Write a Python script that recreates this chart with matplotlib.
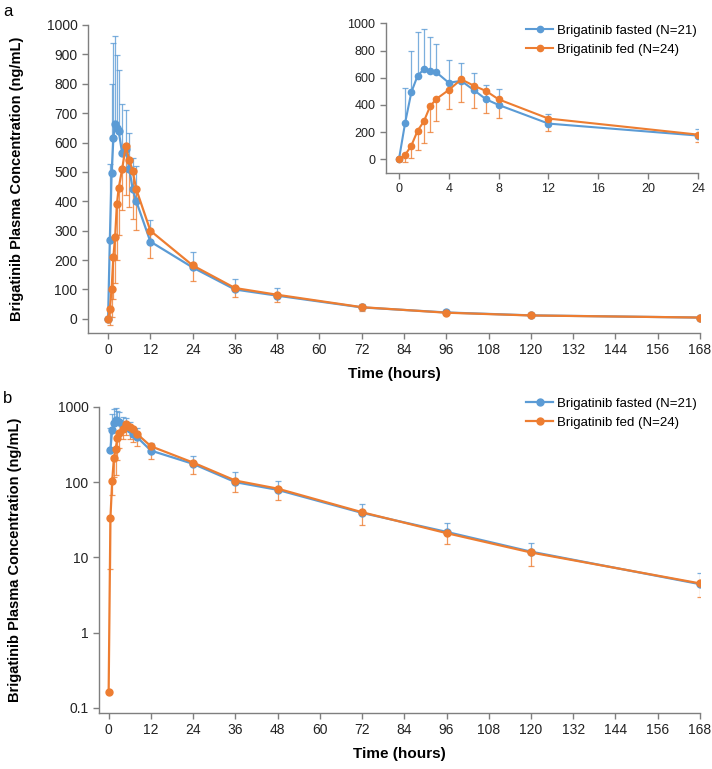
import matplotlib
matplotlib.use("Agg")
import matplotlib.pyplot as plt
import numpy as np
from matplotlib.ticker import FixedLocator, FixedFormatter

plt.rcParams['font.family'] = ['Liberation Sans Narrow', 'Liberation Sans', 'DejaVu Sans']

# sampling times (h)
time = [0, 0.5, 1, 1.5, 2, 2.5, 3, 4, 5, 6, 7, 8, 12, 24, 36, 48, 72, 96, 120, 168]

# mean concentrations (ng/mL)
fasted = [0, 270, 495, 615, 662, 648, 640, 563, 577, 510, 441, 400, 263, 175, 100, 79, 39, 21.8, 11.9, 4.4]
fed = [0.16, 33, 102, 211, 279, 390, 444, 510, 588, 542, 502, 441, 300, 182, 105, 82, 39.8, 21.0, 11.6, 4.5]

# error bar ends (fasted: upper only, fed: lower only)
fasted_hi = [0, 527, 799, 939, 961, 897, 848, 730, 711, 632, 549, 520, 336, 226, 136, 105, 51, 29, 15.7, 6.2]
fed_lo = [0.16, -22, 7, 66, 123, 199, 284, 370, 422, 380, 341, 301, 206, 128, 73, 58, 26.6, 14.9, 7.6, 3.0]
# lower ends as drawn on the log panel
fed_lo_log = [0.16, 6.9, 67, 118, 123, 199, 284, 370, 422, 380, 341, 301, 206, 128, 73, 58, 26.6, 14.9, 7.6, 3.0]

xticks_main = list(range(0, 169, 12))
xticks_inset = [0, 4, 8, 12, 16, 20, 24]

blue = '#5B9BD5'
orange = '#ED7D31'
axcol = '#7f7f7f'

t = np.array(time)
fe = np.array(fed)


def draw(ax, lo, log=False, ms=5, lw=1.6, cap=2.5):
    fa = np.array(fasted, dtype=float)
    if log:
        fa[fa <= 0] = np.nan
    up_err = [np.zeros_like(fa), np.array(fasted_hi) - np.nan_to_num(fa)]
    lo_err = [fe - np.array(lo), np.zeros_like(fe)]
    ax.errorbar(t, fa, yerr=up_err, fmt='none', ecolor=blue, elinewidth=0.9,
                capsize=cap, capthick=0.9, alpha=0.8, zorder=1)
    ax.errorbar(t, fe, yerr=lo_err, fmt='none', ecolor=orange, elinewidth=0.9,
                capsize=cap, capthick=0.9, alpha=0.8, zorder=1)
    l1, = ax.plot(t, fa, '-o', color=blue, lw=lw, ms=ms, zorder=3,
                  label='Brigatinib fasted (N=21)')
    l2, = ax.plot(t, fe, '-o', color=orange, lw=lw, ms=ms, zorder=4,
                  label='Brigatinib fed (N=24)')
    return l1, l2


def style(ax, size=9):
    for s in ['top', 'right']:
        ax.spines[s].set_visible(False)
    for s in ['left', 'bottom']:
        ax.spines[s].set_color(axcol)
        ax.spines[s].set_linewidth(1.0)
    ax.tick_params(axis='both', colors=axcol, labelcolor='#222222',
                   labelsize=size, length=4, width=1.0)


fig = plt.figure(figsize=(7.12, 7.69), dpi=100)

# panel a
ax1 = fig.add_axes([0.1236, 0.567, 0.8596, 0.4005])
draw(ax1, fed_lo)
ax1.set_xlim(-5.7, 168)
ax1.set_ylim(-48, 1000)
ax1.set_xticks(xticks_main)
ax1.set_yticks(range(0, 1001, 100))
style(ax1, 10)
ax1.set_xlabel('Time (hours)', fontsize=11, fontweight='bold', labelpad=7)
ax1.set_ylabel('Brigatinib Plasma Concentration (ng/mL)', fontsize=10.5, fontweight='bold')
ax1.yaxis.set_label_coords(-0.105, 0.5)

# inset
ax_in = fig.add_axes([0.5421, 0.7754, 0.4382, 0.1943])
h1, h2 = draw(ax_in, fed_lo, ms=4.5, lw=1.5, cap=2.5)
ax_in.set_xlim(-1.04, 24)
ax_in.set_ylim(-98, 1000)
ax_in.set_xticks(xticks_inset)
ax_in.set_yticks(range(0, 1001, 200))
style(ax_in, 9)
ax_in.patch.set_alpha(0)
fig.legend(handles=[h1, h2], loc='upper left', bbox_to_anchor=(0.732, 0.975),
           frameon=False, fontsize=9.5, handlelength=2.0, handletextpad=0.3,
           labelspacing=0.5, borderaxespad=0)

# panel b
ax2 = fig.add_axes([0.139, 0.0728, 0.844, 0.398])
draw(ax2, fed_lo_log, log=True)
ax2.set_yscale('log')
ax2.set_xlim(-2.75, 168)
ax2.set_ylim(0.085, 1000)
ax2.set_xticks(xticks_main)
ax2.yaxis.set_major_locator(FixedLocator([0.1, 1, 10, 100, 1000]))
ax2.yaxis.set_major_formatter(FixedFormatter(['0.1', '1', '10', '100', '1000']))
ax2.yaxis.set_minor_locator(FixedLocator([]))
style(ax2, 10)
ax2.set_xlabel('Time (hours)', fontsize=11, fontweight='bold', labelpad=7)
ax2.set_ylabel('Brigatinib Plasma Concentration (ng/mL)', fontsize=10.5, fontweight='bold')
ax2.yaxis.set_label_coords(-0.128, 0.5)
ax2.legend(loc='upper left', bbox_to_anchor=(0.732, 0.49), bbox_transform=fig.transFigure,
           frameon=False, fontsize=9.5, handlelength=2.0, handletextpad=0.3,
           labelspacing=0.5, borderaxespad=0)

fig.text(0.004, 0.985, 'a', fontsize=12, va='center')
fig.text(0.004, 0.482, 'b', fontsize=12, va='center')

fig.savefig('out.png', dpi=100)
